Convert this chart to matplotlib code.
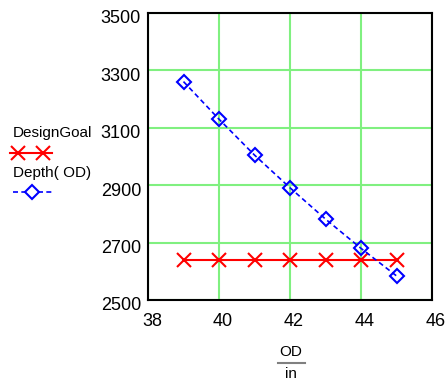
import matplotlib
matplotlib.use("Agg")
import matplotlib.pyplot as plt
from matplotlib.lines import Line2D
import matplotlib.transforms as mtransforms

plt.rcParams['font.family'] = ['Liberation Sans', 'DejaVu Sans']

od = [39, 40, 41, 42, 43, 44, 45]
design_goal = [2640, 2640, 2640, 2640, 2640, 2640, 2640]
depth = [3261, 3130, 3005, 2891, 2782, 2680, 2584]
xticks = [38, 40, 42, 44, 46]
yticks = [2500, 2700, 2900, 3100, 3300, 3500]

W, H = 447, 387
fig = plt.figure(figsize=(W/100, H/100), dpi=100)
ax = fig.add_axes([148/W, 1-300/H, (432-148)/W, (300-13)/H])

ax.plot(od, design_goal, color='red', lw=1.5, marker='x', ms=10, mew=1.5, zorder=3)
ax.plot(od, depth, color='blue', lw=1.2, ls=(0, (3, 2)), marker='D', ms=7,
        mfc='none', mec='blue', mew=1.5, zorder=4)

ax.set_xlim(38, 46)
ax.set_ylim(2500, 3500)
ax.set_xticks(xticks)
ax.set_yticks(yticks)
ax.grid(True, color='#80f080', lw=1.5)
ax.set_axisbelow(True)
ax.tick_params(length=0, labelsize=13)
ax.tick_params(axis='y', pad=5)
ax.tick_params(axis='x', pad=9)
for s in ax.spines.values():
    s.set_linewidth(1.5)

# slight offsets of tick labels as in the reference
offx = mtransforms.ScaledTranslation(4/100, 0, fig.dpi_scale_trans)
offy = mtransforms.ScaledTranslation(0, -4/100, fig.dpi_scale_trans)
for lab in ax.get_xticklabels():
    lab.set_transform(lab.get_transform() + offx)
for lab in ax.get_yticklabels():
    lab.set_transform(lab.get_transform() + offy)

# x label as fraction OD / in
fig.text(291/W, 1-352/H, 'OD', ha='center', va='center', fontsize=11)
fig.add_artist(Line2D([278/W, 305/W], [1-363/H, 1-363/H], color='#808080', lw=1.5))
fig.text(291/W, 1-374/H, 'in', ha='center', va='center', fontsize=11)

# legend at left
fig.text(13/W, 1-133/H, 'DesignGoal', ha='left', va='center', fontsize=11)
fig.add_artist(Line2D([10/W, 52/W], [1-153/H, 1-153/H], color='red', lw=1.5))
fig.add_artist(Line2D([18/W, 43/W], [1-153/H, 1-153/H], color='red', lw=0,
                      marker='x', ms=10, mew=1.5))
fig.text(13/W, 1-173/H, 'Depth( OD)', ha='left', va='center', fontsize=11)
fig.add_artist(Line2D([13/W, 52/W], [1-192/H, 1-192/H], color='blue', lw=1.2,
                      ls=(0, (3, 2))))
fig.add_artist(Line2D([32/W], [1-192/H], color='blue', lw=0, marker='D', ms=7,
                      mfc='white', mec='blue', mew=1.5))

fig.savefig('out.png', dpi=100)
